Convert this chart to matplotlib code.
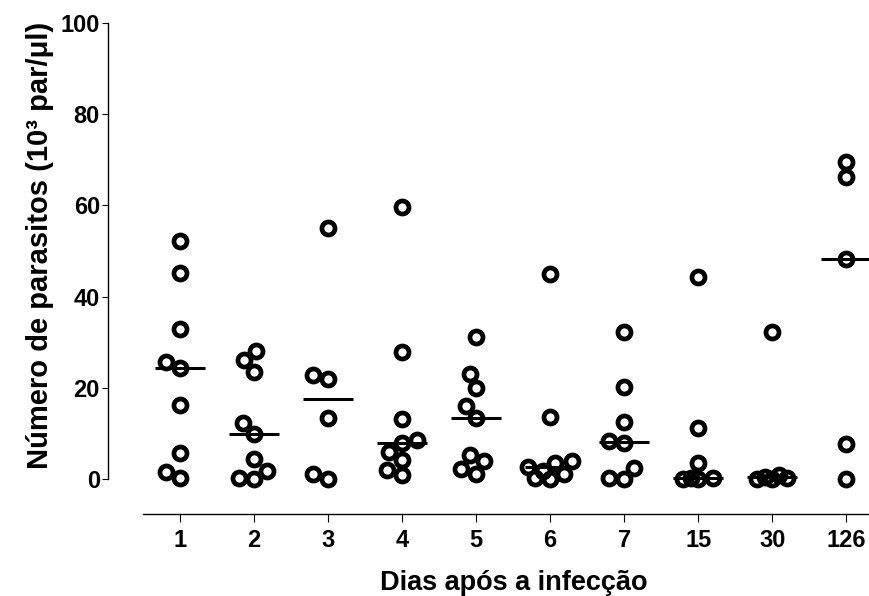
import matplotlib
matplotlib.use('Agg')
from matplotlib import pyplot as plt
import numpy as np

plt.rcParams['font.family'] = ['Liberation Sans', 'DejaVu Sans']
plt.rcParams['font.weight'] = 'bold'

# parasitemia (10^3 par/ul) per day after infection
days = ['1', '2', '3', '4', '5', '6', '7', '15', '30', '126']
d1 = [52.3, 45.2, 33.0, 25.7, 24.3, 16.2, 5.6, 1.6, 0.2]
d2 = [28.1, 26.1, 23.5, 12.2, 9.9, 4.3, 1.8, 0.2, 0.1]
d3 = [55.0, 22.7, 22.0, 13.3, 1.1, 0.0]
d4 = [59.6, 27.8, 13.1, 8.6, 7.8, 6.0, 4.2, 2.0, 0.9]
d5 = [31.2, 23.0, 19.9, 15.9, 13.3, 5.3, 3.9, 2.1, 1.0]
d6 = [45.0, 13.7, 4.0, 3.4, 2.6, 1.8, 1.2, 0.3, 0.0]
d7 = [32.3, 20.2, 12.4, 8.4, 8.0, 2.5, 0.2, 0.0]
d15 = [44.2, 11.1, 3.4, 0.3, 0.2, 0.1, 0.0]
d30 = [32.3, 0.8, 0.5, 0.3, 0.1, 0.0]
d126 = [69.6, 66.3, 48.2, 7.7, 0.0]
groups = [d1, d2, d3, d4, d5, d6, d7, d15, d30, d126]


def swarm(vals, pxx, pxy, mind=15.0, maxw=22.0):
    # spread points sideways inside a limited band, overlapping if needed
    vals = np.asarray(vals, dtype=float)
    offs = np.zeros(len(vals))
    placed = []
    grid = np.arange(-maxw, maxw + 0.5, 1.0)
    grid = sorted(grid, key=lambda c: (abs(c), c))
    for i in np.argsort(vals):
        yp = vals[i] * pxy
        best, bestd = 0.0, -1
        for c in grid:
            d = min([np.hypot(c - px, yp - py) for px, py in placed] or [1e9])
            if d >= mind:
                best = c
                break
            if d > bestd + 1e-9:
                best, bestd = c, d
        placed.append((best, yp))
        offs[i] = best / pxx
    return offs


fig = plt.figure(figsize=(8.7, 5.96), dpi=100)
ax = fig.add_axes([143 / 870, (596 - 514) / 596, 727 / 870, (514 - 23) / 596])
ax.set_xlim(-0.5, 9.32)
ax.set_ylim(-7.68, 100)

p0, p1 = ax.transData.transform([(0, 0), (1, 1)])
pxx, pxy = p1 - p0

for i, g in enumerate(groups):
    offs = swarm(g, pxx, pxy)
    ax.plot(i + offs, g, 'o', mfc='none', mec='black', ms=9.4, mew=3.4,
            clip_on=False, zorder=3)
    ax.hlines(np.median(g), i - 0.34, i + 0.34, color='black', lw=2.2, zorder=4)

for s in ['top', 'right']:
    ax.spines[s].set_visible(False)
ax.spines['left'].set_position(('outward', 25.2))
ax.spines['left'].set_bounds(0, 100)
ax.spines['left'].set_linewidth(1.0)
ax.spines['bottom'].set_linewidth(1.0)

ax.set_yticks([0, 20, 40, 60, 80, 100])
ax.set_xticks(range(len(days)))
ax.set_xticklabels(days)
ax.tick_params(axis='y', length=4.3, width=0.8, pad=1.5, labelsize=17)
ax.tick_params(axis='x', length=6, width=0.8, pad=4.7, labelsize=17)
for lab in ax.get_xticklabels() + ax.get_yticklabels():
    lab.set_fontweight('bold')

fig.text(514 / 870, (596 - 590) / 596, 'Dias após a infecção', ha='center',
         va='baseline', fontsize=19.5, fontweight='bold')
fig.text(40 / 870, (596 - 245) / 596, 'Número de parasitos (10³ par/μl)',
         ha='center', va='center', rotation=90, fontsize=21, fontweight='bold')

fig.savefig('out.png', dpi=100)
